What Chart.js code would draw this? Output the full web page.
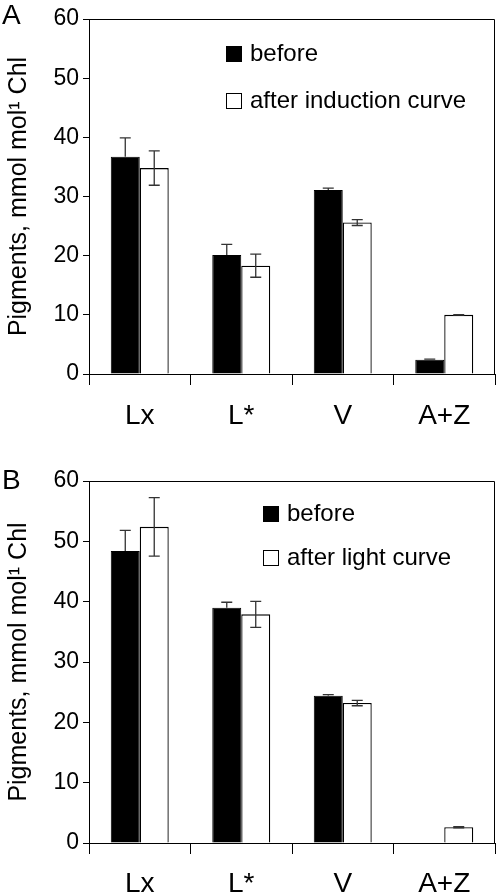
<!DOCTYPE html>
<html>
<head>
<meta charset="utf-8">
<script src="https://cdn.jsdelivr.net/npm/chart.js@4/dist/chart.umd.min.js"></script>
<style>
  body { margin: 0; background: #fff; }
  canvas { position: absolute; left: 0; }
</style>
</head>
<body>
<canvas id="chartA" width="498" height="440" style="top:0px"></canvas>
<canvas id="chartB" width="498" height="454" style="top:440px"></canvas>
<script>
const categories = ['Lx', 'L*', 'V', 'A+Z'];
const yTicks = [0, 10, 20, 30, 40, 50, 60];

// panel A: before / after induction curve
const beforeA = [36.7, 20.1, 31.1, 2.4];
const beforeErrA = [3.2, 1.8, 0.3, 0.1];
const afterA = [34.8, 18.3, 25.6, 10.0];
const afterErrA = [2.9, 1.95, 0.5, 0.05];

// panel B: before / after light curve
const beforeB = [48.4, 39.0, 24.4, 0];
const beforeErrB = [3.4, 0.9, 0.2, 0];
const afterB = [52.4, 37.9, 23.2, 2.6];
const afterErrB = [4.85, 2.15, 0.45, 0.1];

const FONT = "'Liberation Sans', Arial, sans-serif";

// error bars, box frame, legend and panel letter
const extras = {
  id: 'extras',
  afterDatasetsDraw(chart, args, opts) {
    const ctx = chart.ctx;
    const y = chart.scales.y;
    const area = chart.chartArea;
    ctx.save();
    // error bars (the part inside a black bar is not visible)
    ctx.strokeStyle = '#333';
    ctx.lineWidth = 1.3;
    chart.data.datasets.forEach((ds, di) => {
      const meta = chart.getDatasetMeta(di);
      const filled = ds.backgroundColor === '#000';
      ds.errors.forEach((e, i) => {
        if (!e) return;
        const x = meta.data[i].x;
        const v = ds.data[i];
        const top = y.getPixelForValue(v + e);
        const bot = filled ? y.getPixelForValue(v) : y.getPixelForValue(v - e);
        ctx.beginPath();
        ctx.moveTo(x, top); ctx.lineTo(x, bot);
        ctx.moveTo(x - 5.5, top); ctx.lineTo(x + 5.5, top);
        if (!filled) { ctx.moveTo(x - 5.5, bot); ctx.lineTo(x + 5.5, bot); }
        ctx.stroke();
      });
    });
    // top and right frame
    ctx.strokeStyle = '#000';
    ctx.lineWidth = 1;
    ctx.beginPath();
    ctx.moveTo(area.left, area.top + 0.5);
    ctx.lineTo(area.right - 0.5, area.top + 0.5);
    ctx.lineTo(area.right - 0.5, area.bottom);
    ctx.stroke();
    // legend
    ctx.font = '24px ' + FONT;
    ctx.textBaseline = 'middle';
    ctx.textAlign = 'left';
    chart.data.datasets.forEach((ds, di) => {
      const lx = opts.legendX, ly = opts.legendY + di * opts.legendGap;
      ctx.fillStyle = ds.backgroundColor;
      ctx.fillRect(lx, ly, 16, 16);
      ctx.strokeStyle = '#000';
      ctx.strokeRect(lx + 0.5, ly + 0.5, 15, 15);
      ctx.fillStyle = '#000';
      ctx.fillText(ds.label, lx + 24, ly + 8);
    });
    // panel letter
    ctx.font = '28px ' + FONT;
    ctx.textBaseline = 'top';
    ctx.fillText(opts.letter, 2, opts.letterY);
    ctx.restore();
  }
};

function makeChart(id, before, beforeErr, after, afterErr, afterLabel, cfg) {
  return new Chart(document.getElementById(id), {
    type: 'bar',
    data: {
      labels: categories,
      datasets: [
        { label: 'before', data: before, errors: beforeErr,
          backgroundColor: '#000', borderColor: '#000', borderWidth: 1 },
        { label: afterLabel, data: after, errors: afterErr,
          backgroundColor: '#fff', borderColor: '#000', borderWidth: 1.3 }
      ]
    },
    options: {
      responsive: false,
      animation: false,
      devicePixelRatio: 1,
      layout: { padding: { top: cfg.top, right: 3, left: 0, bottom: 0 } },
      datasets: { bar: { categoryPercentage: 0.571, barPercentage: 1.0 } },
      plugins: {
        legend: { display: false },
        tooltip: { enabled: false },
        extras: cfg.extras
      },
      scales: {
        x: {
          grid: { display: true, offset: true, drawOnChartArea: false, tickLength: 11, color: '#000' },
          border: { display: true, color: '#000', width: 1 },
          ticks: { color: '#000', font: { family: FONT, size: 28 }, padding: cfg.xPad, maxRotation: 0 },
          afterFit: s => { s.height = cfg.xHeight; }
        },
        y: {
          min: 0, max: 60,
          afterBuildTicks: s => { s.ticks = yTicks.map(v => ({ value: v })); },
          grid: { display: true, drawOnChartArea: false, tickLength: 6, color: '#000' },
          border: { display: true, color: '#000', width: 1 },
          ticks: { color: '#000', font: { family: FONT, size: 23 }, padding: 4 },
          title: {
            display: true,
            text: 'Pigments, mmol mol\u00B9 Chl',
            color: '#000',
            font: { family: FONT, size: 25 },
            padding: { top: 4, bottom: 0 }
          },
          afterFit: s => { s.width = 89; }
        }
      }
    },
    plugins: [extras]
  });
}

makeChart('chartA', beforeA, beforeErrA, afterA, afterErrA, 'after induction curve', {
  top: 19, xHeight: 66, xPad: 14,
  extras: { legendX: 226, legendY: 46, legendGap: 47, letter: 'A', letterY: 2 }
});

makeChart('chartB', beforeB, beforeErrB, afterB, afterErrB, 'after light curve', {
  top: 41, xHeight: 51, xPad: 13,
  extras: { legendX: 263, legendY: 66, legendGap: 44, letter: 'B', letterY: 27 }
});
</script>
</body>
</html>
